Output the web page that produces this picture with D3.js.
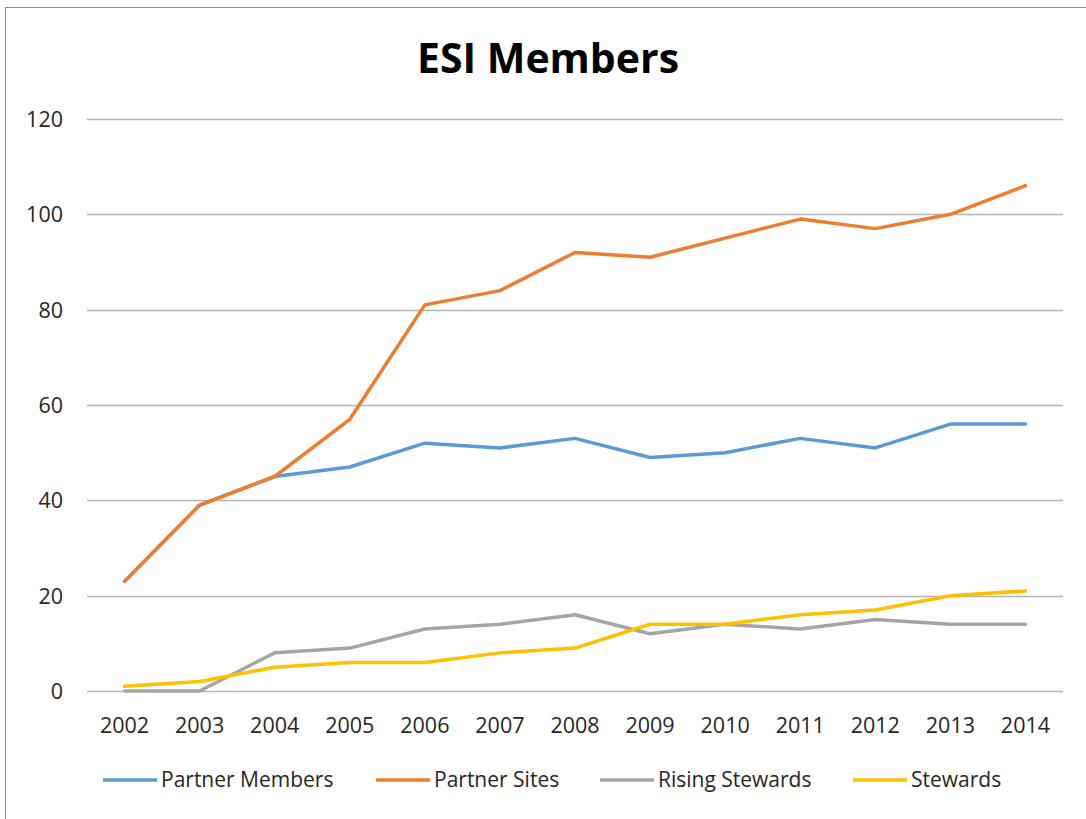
<!DOCTYPE html>
<html>
<head>
<meta charset="utf-8">
<script src="https://cdn.jsdelivr.net/npm/d3@7"></script>
<style>
  html, body { margin: 0; padding: 0; background: #fff; }
  svg { display: block; }
</style>
</head>
<body>
<svg id="chart" width="1086" height="819"></svg>
<script>
const years = ["2002","2003","2004","2005","2006","2007","2008","2009","2010","2011","2012","2013","2014"];
const partnerMembers = [23, 39, 45, 47, 52, 51, 53, 49, 50, 53, 51, 56, 56];
const partnerSites   = [23, 39, 45, 57, 81, 84, 92, 91, 95, 99, 97, 100, 106];
const risingStewards = [0, 0, 8, 9, 13, 14, 16, 12, 14, 13, 15, 14, 14];
const stewards       = [1, 2, 5, 6, 6, 8, 9, 14, 14, 16, 17, 20, 21];
const yTicks = [0, 20, 40, 60, 80, 100, 120];
const seriesNames = ["Partner Members", "Partner Sites", "Rising Stewards", "Stewards"];
const seriesColors = ["#5B9BD5", "#ED7D31", "#A5A5A5", "#FFC000"];
const seriesData = [partnerMembers, partnerSites, risingStewards, stewards];

const svg = d3.select("#chart");
const font = "'Open Sans', 'Noto Sans', sans-serif";

// outer border
svg.append("rect").attr("x", 5.5).attr("y", 7.5).attr("width", 1200).attr("height", 1000)
  .attr("fill", "none").attr("stroke", "#8f8f8f").attr("stroke-width", 1);

const plot = { left: 87, right: 1063, top: 119, bottom: 691 };

const x = d3.scaleBand().domain(years).range([plot.left, plot.right]);
const y = d3.scaleLinear().domain([0, 120]).range([plot.bottom, plot.top]);

// gridlines
svg.append("g").selectAll("line").data(yTicks).join("line")
  .attr("x1", plot.left).attr("x2", plot.right)
  .attr("y1", d => Math.round(y(d)) + 0.5).attr("y2", d => Math.round(y(d)) + 0.5)
  .attr("stroke", "#b3b3b3").attr("stroke-width", 1.3);

// y axis labels
const yAxis = d3.axisLeft(y).tickValues(yTicks).tickSize(0).tickPadding(0);
const gy = svg.append("g").attr("transform", "translate(63,0)").call(yAxis);
gy.select(".domain").remove();
gy.selectAll("text").attr("font-family", font).attr("font-size", 21.5).attr("fill", "#262626")
  .attr("dy", "0.35em");

// x axis labels
const xAxis = d3.axisBottom(x).tickSize(0).tickPadding(0);
const gx = svg.append("g").attr("transform", `translate(0,${plot.bottom})`).call(xAxis);
gx.select(".domain").remove();
gx.selectAll("text").attr("font-family", font).attr("font-size", 21.5).attr("fill", "#262626")
  .attr("y", 34).attr("dy", "0.35em");

// lines
const line = d3.line()
  .x((d, i) => x(years[i]) + x.bandwidth() / 2)
  .y(d => y(d));

seriesData.forEach((data, k) => {
  svg.append("path").datum(data)
    .attr("d", line)
    .attr("fill", "none")
    .attr("stroke", seriesColors[k])
    .attr("stroke-width", 3.5)
    .attr("stroke-linejoin", "round")
    .attr("stroke-linecap", "round");
});

// title
svg.append("text").attr("x", 548).attr("y", 73).attr("text-anchor", "middle")
  .attr("font-family", font).attr("font-weight", "bold").attr("font-size", 41)
  .attr("fill", "#000").text("ESI Members");

// legend
const legendStarts = [103, 376, 600, 853];
const legY = 780;
const leg = svg.append("g");
seriesNames.forEach((name, k) => {
  const g = leg.append("g").attr("transform", `translate(${legendStarts[k]},${legY})`);
  g.append("line").attr("x1", 0).attr("x2", 54).attr("y1", 0).attr("y2", 0)
    .attr("stroke", seriesColors[k]).attr("stroke-width", 3.5);
  g.append("text").attr("x", 58).attr("y", 0).attr("dy", "0.35em")
    .attr("font-family", font).attr("font-size", 21).attr("fill", "#262626").text(name);
});
</script>
</body>
</html>
